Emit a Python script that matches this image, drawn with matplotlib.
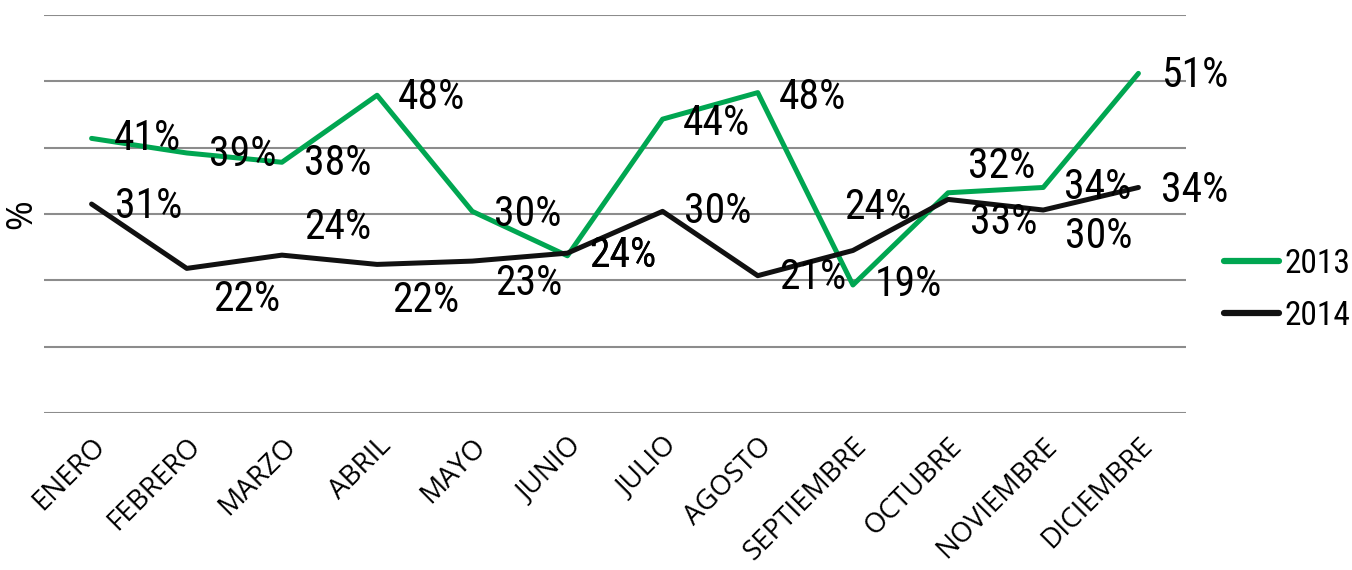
import numpy as np
import matplotlib
matplotlib.use('Agg')
import matplotlib.pyplot as plt

meses = ['ENERO', 'FEBRERO', 'MARZO', 'ABRIL', 'MAYO', 'JUNIO', 'JULIO',
         'AGOSTO', 'SEPTIEMBRE', 'OCTUBRE', 'NOVIEMBRE', 'DICIEMBRE']

# values (%)
v2013 = [41.4, 39.2, 37.8, 47.9, 30.4, 23.7, 44.3, 48.3, 19.3, 33.2, 34.0, 51.2]
v2014 = [31.5, 21.8, 23.8, 22.4, 22.9, 24.1, 30.4, 20.7, 24.5, 32.2, 30.6, 34.0]

# data label texts as printed on the chart
lab2013 = ['41%', '39%', '38%', '48%', '30%', '24%', '44%', '48%', '19%', '32%', '34%', '51%']
lab2014 = ['31%', '22%', '24%', '22%', '23%', '24%', '30%', '21%', '24%', '33%', '30%', '34%']

# label offsets in pixels (dx, dy up)
off2013 = [(56, 0), (56, -2), (56, -1), (54, -2), (55, -3), (55, 0),
           (54, -4), (55, -5), (56, 0), (54, 26), (54, 0), (56, -2)]
off2014 = [(57, -2), (60, -31), (56, 28), (49, -36), (57, -22), (55, -2.65),
           (55, 0), (55, -2), (25, 43), (56, -23), (55, -26), (56, -3)]

verde = '#00A651'
negro = '#111111'
narrow = ['Liberation Sans Narrow', 'Roboto Condensed', 'Roboto', 'DejaVu Sans']
sans = ['Open Sans', 'DejaVu Sans']

fig = plt.figure(figsize=(13.52, 5.70), dpi=100)
ax = fig.add_axes([44 / 1352, 157 / 570, 1142 / 1352, 398 / 570])

x = np.arange(len(meses))
ax.plot(x, v2013, color=verde, lw=3.6, label='2013', solid_capstyle='round', zorder=3)
ax.plot(x, v2014, color=negro, lw=3.6, label='2014', solid_capstyle='round', zorder=3)

for i in range(len(meses)):
    ax.annotate(lab2013[i], (x[i], v2013[i]), xytext=off2013[i], textcoords='offset pixels',
                ha='center', va='center', fontsize=30, family=narrow, zorder=4)
    ax.annotate(lab2014[i], (x[i], v2014[i]), xytext=off2014[i], textcoords='offset pixels',
                ha='center', va='center', fontsize=30, family=narrow, zorder=4)

ax.set_xlim(-0.5, len(meses) - 0.5)
ax.set_ylim(0, 60)
ax.set_yticks(np.arange(0, 61, 10))
ax.yaxis.grid(True, color='#8c8c8c', lw=1.5)
ax.set_axisbelow(True)
ax.tick_params(axis='y', length=0, labelleft=False)
ax.tick_params(axis='x', length=0, pad=14)
for s in ax.spines.values():
    s.set_visible(False)

ax.set_xticks(x)
ax.set_xticklabels(meses, rotation=45, ha='right', va='top', rotation_mode='anchor',
                   fontsize=20, family=sans)

fig.text(22 / 1352, 1 - 214 / 570, '%', rotation=90, ha='center', va='center',
         fontsize=26, family=sans)

leg = fig.legend(loc='center left', bbox_to_anchor=(1224 / 1352, 1 - 290 / 570), frameon=False,
                 prop={'family': narrow, 'size': 24}, handlelength=1.65, handletextpad=0.15,
                 labelspacing=0.6, borderpad=0, borderaxespad=0)
for h in leg.get_lines():
    h.set_linewidth(4.5)

fig.savefig('out.png', dpi=100)
